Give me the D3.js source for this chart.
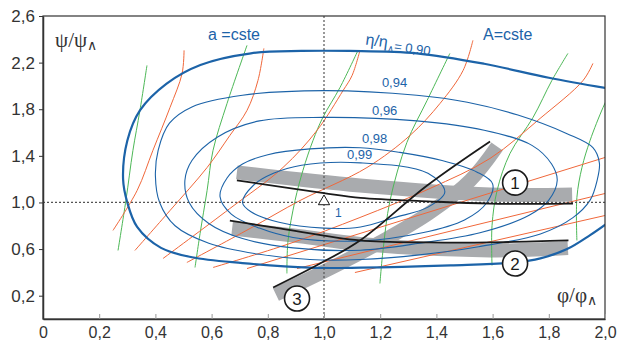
<!DOCTYPE html>
<html>
<head>
<meta charset="utf-8">
<script src="https://cdn.jsdelivr.net/npm/d3@7"></script>
<style>
  body { margin: 0; background: #fff; }
  svg { display: block; font-family: "Liberation Sans", Arial, sans-serif; }
</style>
</head>
<body>
<div id="chart"></div>
<script>
// all values in phi/phi^ , psi/psi^ units
const xTicks = [0, 0.2, 0.4, 0.6, 0.8, 1.0, 1.2, 1.4, 1.6, 1.8, 2.0];
const yTicks = [0.2, 0.6, 1.0, 1.4, 1.8, 2.2, 2.6];

// efficiency contours eta/eta^
const eta090 = [[2.03,1.97],[1.80,2.07],[1.57,2.19],[1.33,2.28],[1.09,2.30],[0.92,2.30],[0.74,2.28],[0.56,2.18],[0.44,2.02],[0.345,1.79],[0.30,1.53],[0.285,1.20],[0.30,1.0],[0.335,0.79],[0.42,0.61],[0.53,0.53],[0.71,0.48],[0.95,0.44],[1.13,0.44],[1.45,0.46],[1.68,0.485],[1.77,0.52],[1.865,0.60],[1.947,0.72],[2.03,0.86]];
const eta094 = [[0.40,1.23],[0.41,1.45],[0.45,1.68],[0.53,1.82],[0.71,1.92],[1.0,1.96],[1.33,1.92],[1.51,1.86],[1.69,1.75],[1.865,1.59],[1.957,1.47],[1.98,1.34],[1.972,1.19],[1.947,1.02],[1.886,0.87],[1.77,0.73],[1.55,0.62],[1.34,0.55],[1.13,0.51],[0.95,0.51],[0.77,0.555],[0.59,0.65],[0.47,0.80],[0.415,1.0]];
const eta096 = [[0.505,1.19],[0.53,1.36],[0.62,1.56],[0.77,1.70],[1.0,1.73],[1.33,1.70],[1.57,1.62],[1.74,1.49],[1.81,1.33],[1.83,1.19],[1.80,1.02],[1.73,0.89],[1.555,0.74],[1.34,0.65],[1.13,0.59],[0.89,0.61],[0.71,0.69],[0.59,0.82],[0.52,1.0]];
const eta098 = [[0.63,1.05],[0.655,1.21],[0.71,1.33],[0.80,1.41],[0.95,1.46],[1.13,1.47],[1.27,1.43],[1.42,1.36],[1.545,1.26],[1.60,1.16],[1.58,1.0],[1.50,0.85],[1.35,0.74],[1.13,0.67],[0.89,0.70],[0.77,0.78],[0.67,0.90]];
const eta099 = [[0.71,1.0],[0.75,1.15],[0.82,1.25],[0.92,1.32],[1.13,1.34],[1.37,1.25],[1.43,1.09],[1.37,0.96],[1.25,0.87],[1.13,0.79],[1.0,0.78],[0.84,0.83],[0.74,0.92]];

// a = cste (green)
const aLines = [
  [[0.370,2.176],[0.345,1.790],[0.320,1.446],[0.295,1.017],[0.267,0.588]],
  [[0.726,2.348],[0.655,1.850],[0.605,1.446],[0.584,1.103],[0.559,0.734],[0.541,0.442]],
  [[1.121,2.305],[1.057,1.987],[0.996,1.730],[0.961,1.533],[0.925,1.275],[0.897,1.017],[0.872,0.674],[0.868,0.391]],
  [[1.448,2.279],[1.367,1.876],[1.295,1.515],[1.235,1.017],[1.210,0.588],[1.199,0.305]],
  [[1.868,2.279],[1.811,2.047],[1.744,1.730],[1.662,1.421],[1.616,1.103],[1.598,0.802],[1.598,0.459]],
  [[2.02,1.95],[1.993,1.815],[1.947,1.533],[1.918,1.300],[1.900,1.043],[1.900,0.674]]
];

// A = cste (orange)
const bigALines = [
  [[0.502,2.305],[0.495,2.107],[0.452,1.815],[0.391,1.446],[0.335,1.103],[0.249,0.760]],
  [[0.786,2.322],[0.765,2.047],[0.726,1.790],[0.665,1.575],[0.584,1.300],[0.452,0.931],[0.327,0.588]],
  [[1.128,2.305],[1.100,2.090],[1.068,1.961],[0.975,1.618],[0.854,1.300],[0.665,0.948],[0.427,0.519]],
  [[1.530,2.391],[1.495,2.133],[1.413,1.850],[1.306,1.575],[1.153,1.300],[0.915,1.017],[0.737,0.777],[0.512,0.485]],
  [[1.957,2.193],[1.922,2.047],[1.769,1.721],[1.591,1.378],[1.377,1.120],[1.128,0.871],[0.879,0.648],[0.605,0.442]],
  [[0.726,0.433],[2.0,1.386]],
  [[0.904,0.433],[2.0,1.077]],
  [[1.110,0.399],[2.0,0.888]]
];

// operating curves 1,2,3 and their grey bands
const band1 = [[0.69,1.258],[1.128,1.146],[1.591,1.069],[1.883,1.069]];
const band2 = [[0.673,0.777],[0.915,0.71],[1.128,0.644],[1.591,0.588],[1.868,0.609]];
const band3 = [[0.829,0.210],[1.021,0.433],[1.199,0.657],[1.377,0.914],[1.520,1.189],[1.616,1.481]];
const curve1 = [[0.69,1.19],[1.0,1.08],[1.13,1.04],[1.37,1.01],[1.59,0.99],[1.886,0.99]];
const curve2 = [[0.665,0.845],[0.843,0.777],[1.128,0.674],[1.377,0.657],[1.59,0.657],[1.87,0.674]];
const curve3 = [[0.819,0.270],[0.986,0.476],[1.128,0.674],[1.367,1.146],[1.591,1.524]];

const curveNames = ["1", "2", "3"];
const curveTags = [[1.68,1.17],[1.68,0.476],[0.904,0.176]];

const bepPoint = [1.0, 1.0];

class MapPlot {

    constructor() {
        this.margin = { top: 16, right: 13, bottom: 26, left: 43 };
        this.width = 618 - this.margin.left - this.margin.right;
        this.height = 345 - this.margin.top - this.margin.bottom;

        this.x = d3.scaleLinear().domain([0, 2]).range([0, this.width]);
        this.y = d3.scaleLinear().domain([0, 2.6]).range([this.height, 0]);

        this.drawPlot();
    }

    drawPlot() {
        let x = this.x, y = this.y;
        let blue = "#1c63a8", orange = "#f0673a", green = "#4db857", grey = "#a9abae";

        let svg = d3.select('#chart').append('svg')
            .attr('width', 618).attr('height', 345);

        svg.append('defs').append('clipPath').attr('id', 'plot-clip')
            .append('rect').attr('width', this.width).attr('height', this.height);

        let g = svg.append('g')
            .attr('transform', 'translate(' + this.margin.left + ',' + this.margin.top + ')');

        let area = g.append('g').attr('clip-path', 'url(#plot-clip)');

        let open = d3.line().x(d => x(d[0])).y(d => y(d[1])).curve(d3.curveCatmullRom.alpha(0.5));
        let closed = d3.line().x(d => x(d[0])).y(d => y(d[1])).curve(d3.curveCatmullRomClosed.alpha(0.5));

        // grey bands
        area.selectAll('.band').data([band1, band2, band3]).enter()
            .append('path').attr('class', 'band')
            .attr('d', open)
            .attr('fill', 'none').attr('stroke', grey)
            .attr('stroke-width', 14).attr('stroke-linecap', 'butt');

        // a = cste
        area.selectAll('.a-line').data(aLines).enter()
            .append('path').attr('class', 'a-line')
            .attr('d', open)
            .attr('fill', 'none').attr('stroke', green).attr('stroke-width', 1);

        // A = cste
        area.selectAll('.A-line').data(bigALines).enter()
            .append('path').attr('class', 'A-line')
            .attr('d', open)
            .attr('fill', 'none').attr('stroke', orange).attr('stroke-width', 1);

        // efficiency contours
        area.append('path').attr('d', open(eta090))
            .attr('fill', 'none').attr('stroke', blue).attr('stroke-width', 2.2);
        area.selectAll('.eta').data([eta094, eta096, eta098, eta099]).enter()
            .append('path').attr('class', 'eta')
            .attr('d', closed)
            .attr('fill', 'none').attr('stroke', blue).attr('stroke-width', 1.1);

        // reference dotted lines
        area.append('line')
            .attr('x1', 0).attr('x2', this.width)
            .attr('y1', y(bepPoint[1])).attr('y2', y(bepPoint[1]))
            .attr('stroke', '#555').attr('stroke-width', 1.2).attr('stroke-dasharray', '2,2');
        area.append('line')
            .attr('x1', x(bepPoint[0])).attr('x2', x(bepPoint[0]))
            .attr('y1', 0).attr('y2', this.height)
            .attr('stroke', '#555').attr('stroke-width', 1.2).attr('stroke-dasharray', '2,2');

        // operating curves
        area.selectAll('.op').data([curve1, curve2, curve3]).enter()
            .append('path').attr('class', 'op')
            .attr('d', open)
            .attr('fill', 'none').attr('stroke', '#1a1a1a').attr('stroke-width', 1.8);

        let tags = g.selectAll('.tag').data(curveTags).enter()
            .append('g').attr('class', 'tag')
            .attr('transform', d => 'translate(' + x(d[0]) + ',' + y(d[1]) + ')');
        tags.append('circle').attr('r', 12.5)
            .attr('fill', '#fff').attr('stroke', '#1a1a1a').attr('stroke-width', 1.6);
        tags.append('text').text((d, i) => curveNames[i])
            .attr('text-anchor', 'middle').attr('dy', '0.36em')
            .attr('font-size', 17).attr('fill', '#1a1a1a');

        // best efficiency point
        g.append('path')
            .attr('d', d3.symbol(d3.symbolTriangle).size(55))
            .attr('transform', 'translate(' + x(bepPoint[0]) + ',' + (y(bepPoint[1]) - 1) + ')')
            .attr('fill', '#fff').attr('stroke', '#1a1a1a').attr('stroke-width', 1);
        g.append('text').text('1')
            .attr('x', x(bepPoint[0]) + 11).attr('y', y(bepPoint[1]) + 15)
            .attr('font-size', 12).attr('fill', blue);

        // contour labels
        let labels = [["0,94", 1.206, 1.987], ["0,96", 1.171, 1.747], ["0,98", 1.135, 1.506], ["0,99", 1.082, 1.369]];
        g.selectAll('.eta-label').data(labels).enter()
            .append('text').attr('class', 'eta-label')
            .attr('x', d => x(d[1])).attr('y', d => y(d[2]))
            .attr('font-size', 13).attr('fill', blue)
            .text(d => d[0]);

        let etaText = g.append('text')
            .attr('transform', 'translate(' + x(1.146) + ',' + y(2.356) + ') rotate(8)')
            .attr('fill', blue).attr('font-size', 14);
        etaText.append('tspan').attr('font-size', 16).text('η/η');
        etaText.append('tspan').attr('font-size', 9).attr('dy', 3).text('∧');
        etaText.append('tspan').attr('font-size', 13).attr('dy', -1).text('= 0,90');

        g.append('text').attr('x', x(0.587)).attr('y', y(2.39))
            .attr('font-size', 16).attr('fill', blue).text('a =cste');
        g.append('text').attr('x', x(1.566)).attr('y', y(2.39))
            .attr('font-size', 16).attr('fill', blue).text('A=cste');

        // axis titles
        let yt = g.append('text').attr('x', x(0.043)).attr('y', y(2.33))
            .attr('fill', '#333').attr('font-family', '"Liberation Serif", serif');
        yt.append('tspan').attr('font-size', 21).text('ψ/ψ');
        yt.append('tspan').attr('font-size', 14).attr('dy', 3).attr('font-family', '"Liberation Sans", sans-serif').text('∧');

        let xt = g.append('text').attr('x', x(1.829)).attr('y', y(0.142))
            .attr('fill', '#333').attr('font-family', '"Liberation Serif", serif');
        xt.append('tspan').attr('font-size', 21).text('φ/φ');
        xt.append('tspan').attr('font-size', 14).attr('dy', 3).attr('font-family', '"Liberation Sans", sans-serif').text('∧');

        // frame and axes
        g.append('rect').attr('width', this.width).attr('height', this.height)
            .attr('fill', 'none').attr('stroke', '#333').attr('stroke-width', 1.2);

        let fmt = d => d === 0 ? '0' : d3.format('.1f')(d).replace('.', ',');

        let xAxis = g.append('g').attr('class', 'x-axis')
            .attr('transform', 'translate(0,' + this.height + ')')
            .call(d3.axisBottom(x).tickValues(xTicks).tickFormat(fmt).tickSizeInner(-5).tickSizeOuter(0).tickPadding(8));
        xAxis.select('.domain').attr('stroke', '#333').attr('stroke-width', 1.5);
        xAxis.selectAll('.tick line').attr('stroke', '#999');
        xAxis.selectAll('.tick text').attr('font-size', 16).attr('fill', '#333')
            .attr('font-family', '"Liberation Sans", Arial, sans-serif');

        let yAxis = g.append('g').attr('class', 'y-axis')
            .call(d3.axisLeft(y).tickValues(yTicks).tickFormat(fmt).tickSizeInner(4).tickSizeOuter(0).tickPadding(4));
        yAxis.select('.domain').attr('stroke', '#333').attr('stroke-width', 1.5);
        yAxis.selectAll('.tick line').attr('stroke', '#333');
        yAxis.selectAll('.tick text').attr('font-size', 17).attr('fill', '#333')
            .attr('font-family', '"Liberation Sans", Arial, sans-serif');
    }
}

new MapPlot();
</script>
</body>
</html>
